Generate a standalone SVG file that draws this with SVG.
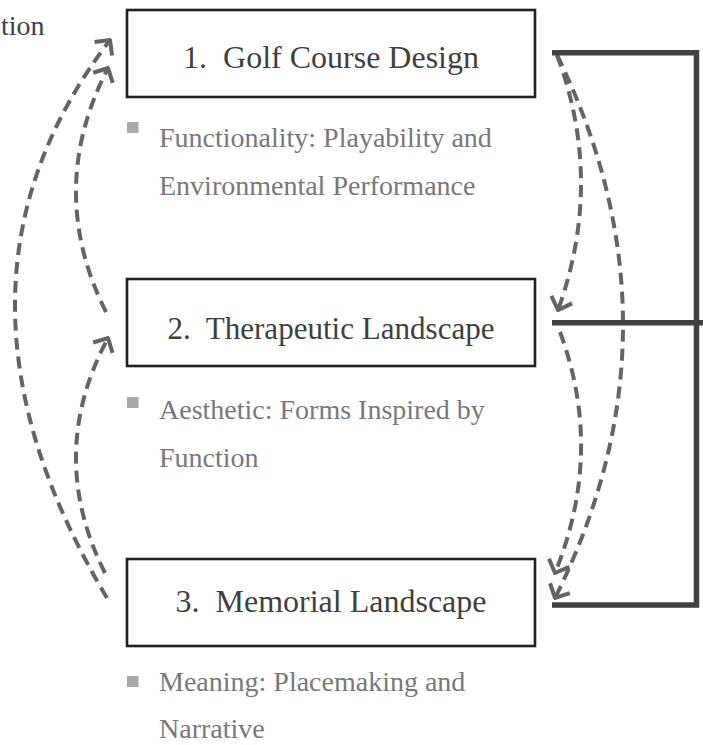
<svg xmlns="http://www.w3.org/2000/svg" width="703" height="745" viewBox="0 0 703 745">
  <style>
    .box { fill: #ffffff; stroke: #231f20; stroke-width: 2.6; }
    .label { font-family: "Liberation Serif", "Times New Roman", serif; font-size: 32px; fill: #3f3f40; text-anchor: middle; }
    .note { font-family: "Liberation Serif", "Times New Roman", serif; font-size: 28px; fill: #77787b; }
    .bullet { fill: #a7a9ac; }
    .dash { fill: none; stroke: #636466; stroke-width: 4; stroke-dasharray: 12 7; marker-end: url(#chev); }
    .bracket { fill: none; stroke: #414042; stroke-width: 5.5; }
  </style>
  <defs>
    <marker id="chev" viewBox="-14 -14 16 28" refX="0" refY="0" markerWidth="16" markerHeight="28" markerUnits="userSpaceOnUse" orient="auto">
      <path d="M-11,-11 L0,0 L-11,11" fill="none" stroke="#636466" stroke-width="4" stroke-linejoin="miter" stroke-miterlimit="2"/>
    </marker>
  </defs>

  <text x="1" y="35" class="note" style="fill:#414042">tion</text>

  <g id="connectors">
    <path class="dash" d="M107,598 Q-78.5,287 110,40"/>
    <path class="dash" d="M106,312 Q45,190 108,68"/>
    <path class="dash" d="M105,573 Q45.5,454.5 108,338"/>
    <path class="dash" d="M557,55 Q604.5,181.5 558,310"/>
    <path class="dash" d="M557,55 Q690,327.5 555,598"/>
    <path class="dash" d="M560,332 Q604.5,451.5 555,573"/>
    <path class="bracket" d="M552,52.7 H696.5 V605 H552"/>
    <path class="bracket" d="M552,322.7 H703"/>
  </g>

  <g id="node1">
    <rect class="box" x="127" y="10" width="408" height="87"/>
    <text class="label" x="331" y="68" xml:space="preserve">1.  Golf Course Design</text>
    <rect class="bullet" x="127" y="122" width="11.5" height="11"/>
    <text class="note" x="159" y="147">Functionality: Playability and</text>
    <text class="note" x="159" y="195">Environmental Performance</text>
  </g>

  <g id="node2">
    <rect class="box" x="127" y="279" width="408" height="87"/>
    <text class="label" x="331" y="339" xml:space="preserve" textLength="327" lengthAdjust="spacingAndGlyphs">2.  Therapeutic Landscape</text>
    <rect class="bullet" x="127" y="397" width="11.5" height="11"/>
    <text class="note" x="159" y="419">Aesthetic: Forms Inspired by</text>
    <text class="note" x="159" y="467">Function</text>
  </g>

  <g id="node3">
    <rect class="box" x="127" y="559" width="408" height="87"/>
    <text class="label" x="331" y="612" xml:space="preserve">3.  Memorial Landscape</text>
    <rect class="bullet" x="127" y="676" width="11.5" height="11"/>
    <text class="note" x="159" y="691">Meaning: Placemaking and</text>
    <text class="note" x="159" y="738">Narrative</text>
  </g>
</svg>
